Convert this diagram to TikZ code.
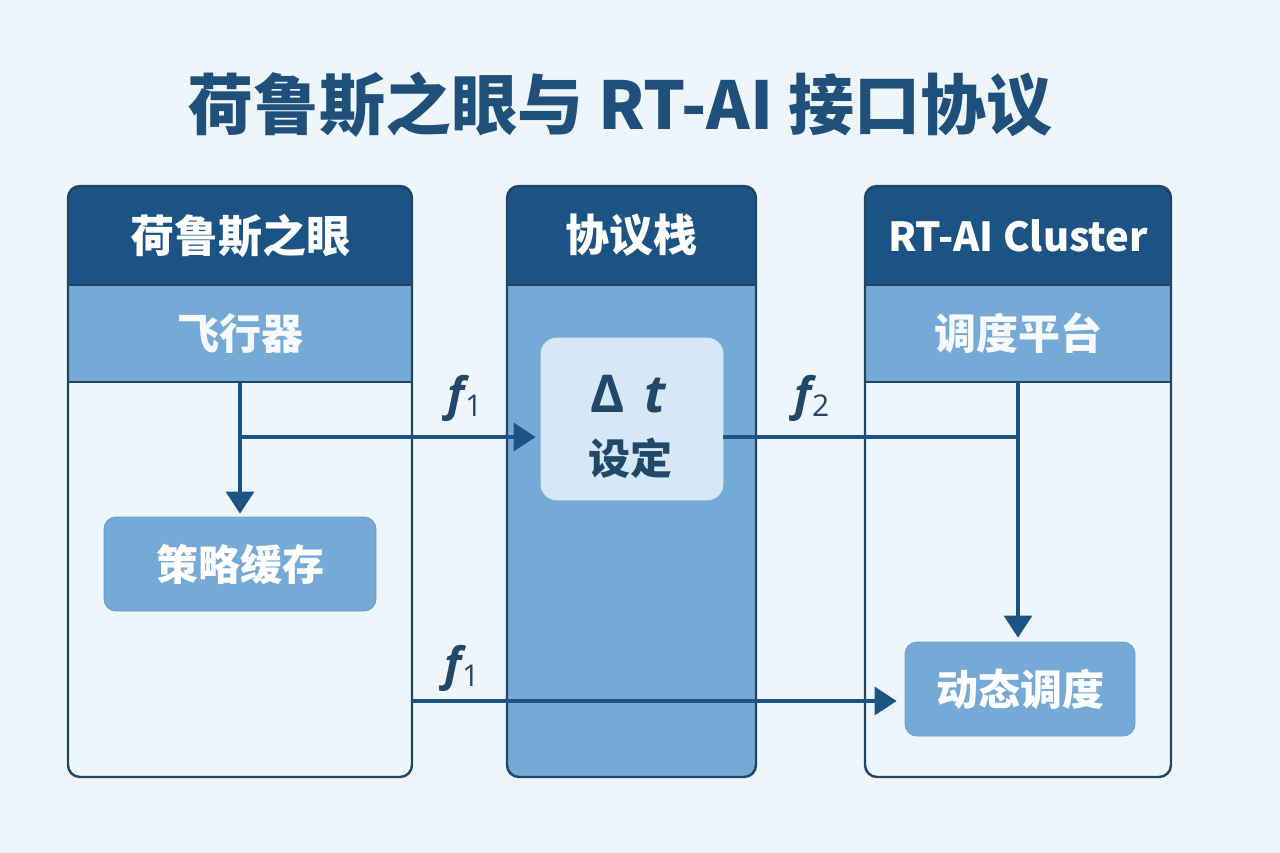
\documentclass[tikz,border=0pt]{standalone}
\usepackage{fontspec}
\setmainfont{Noto Sans CJK SC}
\newfontfamily\latinsans{Open Sans}
\definecolor{bgblue}{RGB}{238,245,251}
\definecolor{navy1}{RGB}{27,84,132}
\definecolor{band1}{RGB}{118,170,214}
\definecolor{edge1}{RGB}{34,70,98}
\definecolor{paleblue}{RGB}{214,232,245}
\definecolor{bodywhite}{RGB}{237,246,252}
\definecolor{titleblue}{RGB}{30,80,122}
\definecolor{ink1}{RGB}{33,72,104}
\usetikzlibrary{arrows.meta, positioning, calc}
\newcommand{\flabel}[1]{{\bfseries\itshape f}\raisebox{-6pt}{\fontsize{30}{32}\selectfont #1}}

\tikzset{
  colframe/.style={draw=edge1, line width=2.4pt, rounded corners=12pt},
  header/.style={fill=navy1, text=white, inner sep=0pt, outer sep=0pt, minimum height=99pt, font=\bfseries\fontsize{44}{48}\selectfont},
  band/.style={fill=band1, text=white!94!band1, inner sep=0pt, outer sep=0pt, minimum height=97pt, font=\bfseries\fontsize{42}{46}\selectfont},
  innerbox/.style={fill=band1, draw=band1!85!navy1, line width=0.8pt, rounded corners=12pt, text=white, inner sep=0pt, font=\bfseries\fontsize{42}{46}\selectfont},
  setbox/.style={fill=paleblue, draw=white!70!band1, line width=0.8pt, rounded corners=16pt, inner sep=0pt},
  flow/.style={draw=navy1, line width=3.5pt, -{Triangle[length=22pt,width=28pt]}},
  link/.style={draw=navy1, line width=3.5pt},
  flowlabel/.style={text=ink1, font=\latinsans\fontsize{46}{50}\selectfont},
}

\begin{document}
\begin{tikzpicture}[x=1pt, y=-1pt]
  \useasboundingbox (0,0) rectangle (1280,853);
  \fill[bgblue] (0,0) rectangle (1280,853);

  \node[text=titleblue, font=\bfseries\fontsize{66}{70}\selectfont] (title) at (620,105) {荷鲁斯之眼与 RT-AI 接口协议};

  % left column
  \begin{scope}
    \clip[rounded corners=12pt] (68,186) rectangle (412,777);
    \fill[bodywhite] (68,186) rectangle (412,777);
    \node[header, minimum width=344pt] (horus) at (240,235.5) {荷鲁斯之眼};
    \node[band, minimum width=344pt] (craft) at (240,333.5) {飞行器};
  \end{scope}
  \draw[edge1, line width=1.2pt] (horus.south west) -- (horus.south east);
  \draw[edge1, line width=1.6pt] (craft.south west) -- (craft.south east);
  \draw[colframe] (68,186) rectangle (412,777);

  % middle column
  \begin{scope}
    \clip[rounded corners=12pt] (507,186) rectangle (756,777);
    \fill[band1] (507,186) rectangle (756,777);
    \node[header, minimum width=249pt] (stack) at (631.5,235.5) {协议栈};
  \end{scope}
  \draw[edge1, line width=1.2pt] (stack.south west) -- (stack.south east);
  \draw[colframe] (507,186) rectangle (756,777);

  % right column
  \begin{scope}
    \clip[rounded corners=12pt] (865,186) rectangle (1171,777);
    \fill[bodywhite] (865,186) rectangle (1171,777);
    \node[header, minimum width=306pt, font=\bfseries\fontsize{40}{44}\selectfont] (cluster) at (1018,235.5) {RT-AI Cluster};
    \node[band, minimum width=306pt] (sched) at (1018,333.5) {调度平台};
  \end{scope}
  \draw[edge1, line width=1.2pt] (cluster.south west) -- (cluster.south east);
  \draw[edge1, line width=1.6pt] (sched.south west) -- (sched.south east);
  \draw[colframe] (865,186) rectangle (1171,777);

  \node[innerbox, minimum width=272pt, minimum height=94pt] (cache) at (240,564) {策略缓存};
  \node[innerbox, minimum width=230pt, minimum height=94pt] (dyn) at (1020,689) {动态调度};
  \node[setbox, minimum width=182pt, minimum height=162pt] (dtbox) at (632,419) {};
  \node[text=ink1, font=\latinsans\bfseries\fontsize{52}{56}\selectfont] (dtsym) at (628,394) {Δ\hspace{20pt}{\itshape t}};
  \node[text=ink1, font=\bfseries\fontsize{42}{46}\selectfont] (dtset) at (630,458) {设定};

  \coordinate (tapa) at (240,437);
  \coordinate (tapb) at (412,701);
  \draw[flow, shorten >=3pt] (craft.south) -- (cache.north);
  \draw[flow, shorten >=5pt] (tapa) -- (tapa -| dtbox.west);
  \draw[link] (tapa -| dtbox.east) -- (tapa -| sched.south);
  \draw[flow, shorten >=4pt] (sched.south) -- (sched.south |- dyn.north);
  \draw[flow, shorten >=8pt] (tapb) -- (tapb -| dyn.west);

  \node[flowlabel] (fa) at (465,398) {\flabel{1}};
  \node[flowlabel] (fb) at (812,398) {\flabel{2}};
  \node[flowlabel] (fc) at (462,668) {\flabel{1}};
\end{tikzpicture}
\end{document}
